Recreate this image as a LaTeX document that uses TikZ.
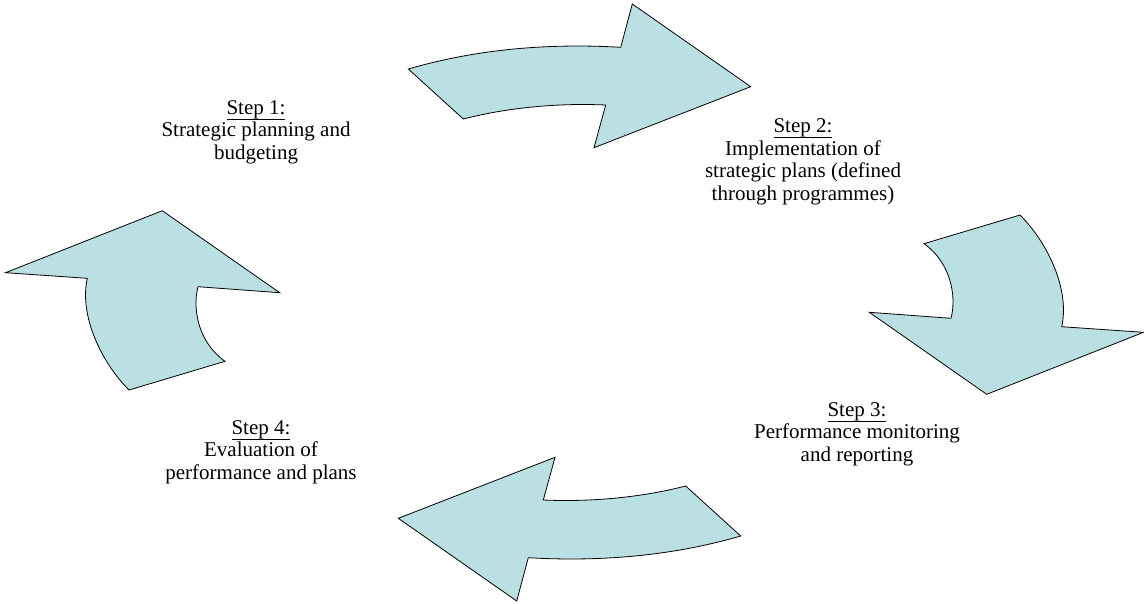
\documentclass[tikz,border=0pt]{standalone}
\usepackage{fontspec}
\setmainfont{Liberation Serif}
\definecolor{arrowfill}{RGB}{187,224,227}
\newcommand{\stepul}[1]{\setbox0\hbox{#1}\rlap{\rule[-4pt]{\wd0}{0.7pt}}\box0}
\begin{document}
\begin{tikzpicture}[x=0.75pt,y=-0.75pt,
  arrowshape/.style={fill=arrowfill,draw=black,line width=0.6pt,line join=miter},
  steptext/.style={align=center,font=\fontsize{15.75}{16.9}\selectfont,inner sep=0pt}]
\useasboundingbox (0,0) rectangle (1144,603);
\coordinate (C) at (574.5,302.5);
\newcommand{\toparrow}{%
  \draw[arrowshape] (408.3,69) -- (463.3,119)
    .. controls (510,107) and (560,103) .. (605.7,105)
    -- (594,147.7) -- (750.7,86.7) -- (632.3,4) -- (620.7,47.3)
    .. controls (530,42) and (460,54) .. (408.3,69) -- cycle;}
\newcommand{\rightarrowshape}{%
  \draw[arrowshape] (924,243.7) -- (1020,215)
    .. controls (1048,243) and (1070,290) .. (1061.7,326.7)
    -- (1143.5,332.3) -- (986.7,394.3) -- (869.3,312.3) -- (951,318.3)
    .. controls (957,295) and (950,262) .. (924,243.7) -- cycle;}
\toparrow
\rightarrowshape
\begin{scope}[rotate around={180:(C)}]
\toparrow
\rightarrowshape
\end{scope}
\node[steptext] (s1) at (256,132) {\stepul{Step 1:}\\Strategic planning and\\budgeting};
\node[steptext] (s2) at (803,162) {\stepul{Step 2:}\\Implementation of\\strategic plans (defined\\through programmes)};
\node[steptext] (s3) at (857,434) {\stepul{Step 3:}\\Performance monitoring\\and reporting};
\node[steptext] (s4) at (261,452) {\stepul{Step 4:}\\Evaluation of\\performance and plans};
\end{tikzpicture}
\end{document}
